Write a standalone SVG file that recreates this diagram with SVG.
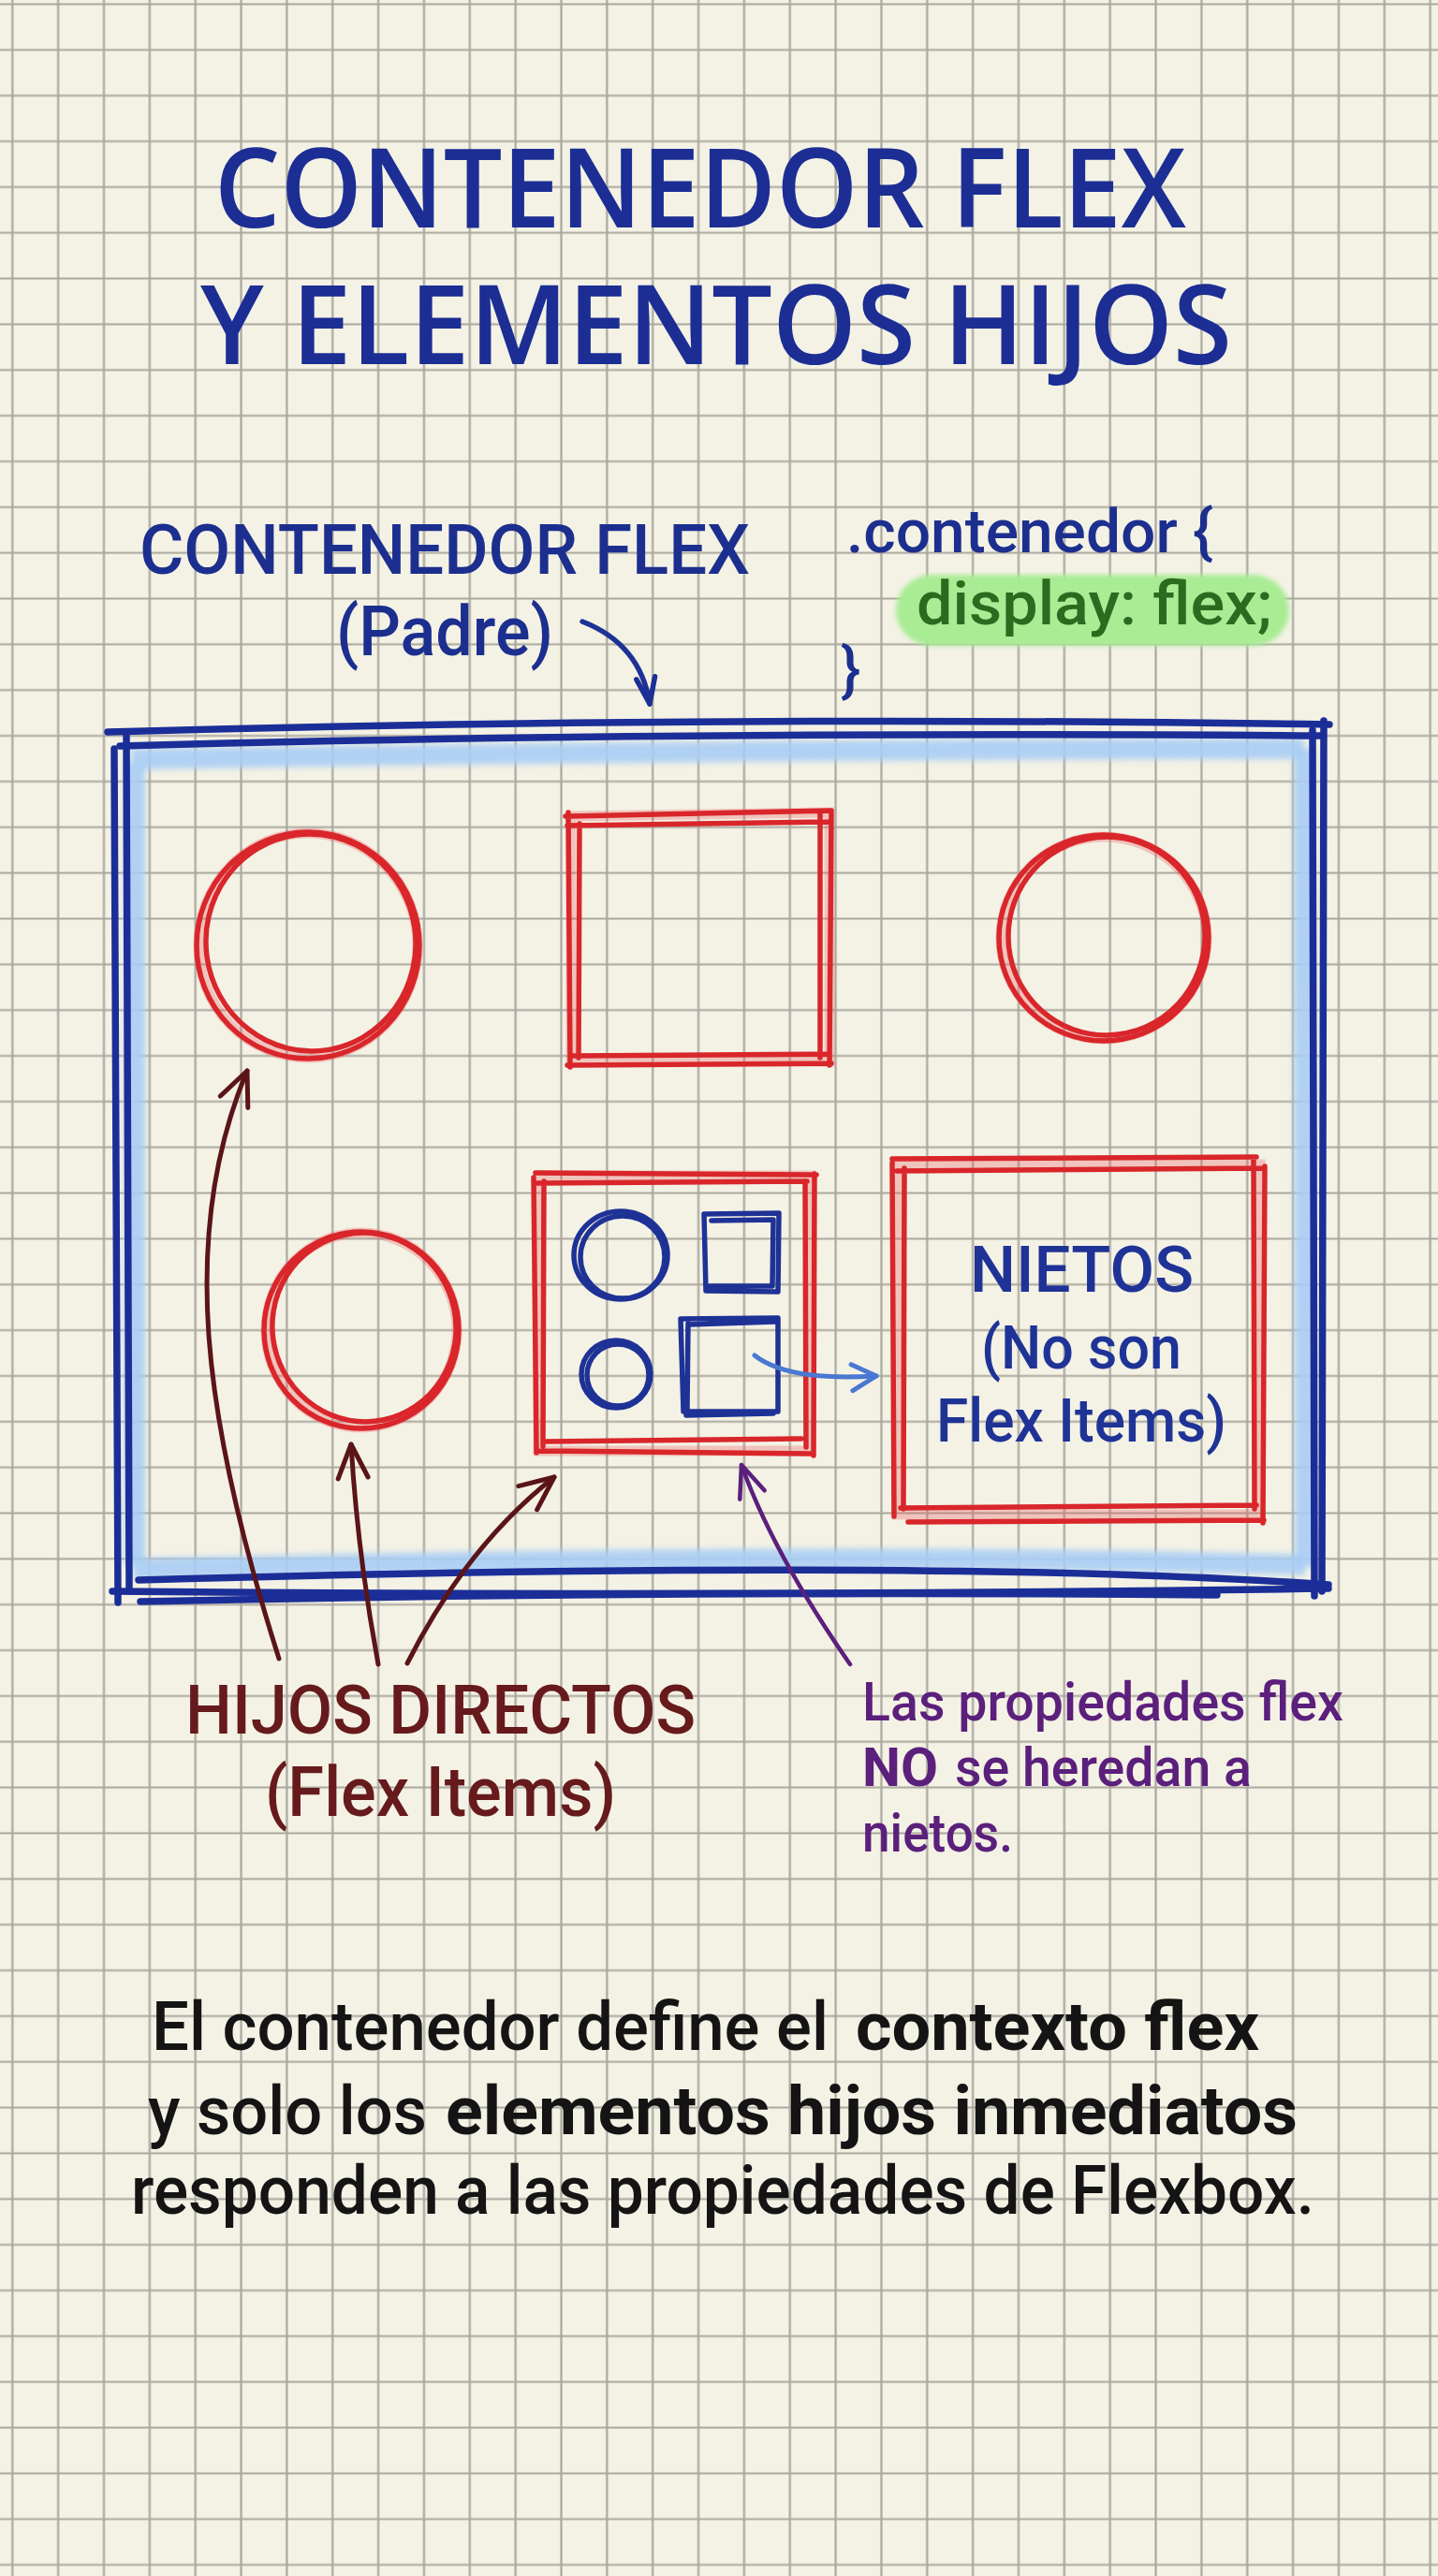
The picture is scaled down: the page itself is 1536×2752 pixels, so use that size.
<svg xmlns="http://www.w3.org/2000/svg" width="1536" height="2752" viewBox="0 0 1536 2752">
<defs>
<pattern id="grid" patternUnits="userSpaceOnUse" x="-11.125" y="-19.975" width="48.85" height="48.85">
<path d="M24.425 0 V48.85 M0 24.425 H48.85" stroke="#a9a79d" stroke-width="2.2" fill="none"/>
</pattern>
<filter id="glow" x="-10%" y="-20%" width="120%" height="140%"><feGaussianBlur stdDeviation="2.5"/></filter>
<filter id="haloblur" x="-5%" y="-5%" width="110%" height="110%"><feGaussianBlur stdDeviation="3"/></filter>
<marker id="hMaroon" markerUnits="userSpaceOnUse" markerWidth="50" markerHeight="50" refX="40" refY="22" orient="auto">
<path d="M4 6 L40 22 L4 38" fill="none" stroke="#5a1518" stroke-width="5" stroke-linecap="round" stroke-linejoin="round"/>
</marker>
<marker id="hPurple" markerUnits="userSpaceOnUse" markerWidth="50" markerHeight="50" refX="40" refY="22" orient="auto">
<path d="M6 8 L40 22 L6 36" fill="none" stroke="#5b1f7c" stroke-width="4.5" stroke-linecap="round" stroke-linejoin="round"/>
</marker>
<marker id="hNavy" markerUnits="userSpaceOnUse" markerWidth="50" markerHeight="50" refX="40" refY="22" orient="auto">
<path d="M12 12 L40 22 L12 32" fill="none" stroke="#1c2f94" stroke-width="5.5" stroke-linecap="round" stroke-linejoin="round"/>
</marker>
<marker id="hBlue" markerUnits="userSpaceOnUse" markerWidth="50" markerHeight="50" refX="40" refY="22" orient="auto">
<path d="M14 8 L40 22 L14 36" fill="none" stroke="#4a78d2" stroke-width="5" stroke-linecap="round" stroke-linejoin="round"/>
</marker>
</defs>
<style>
.t { font-family: "Open Sans", "Noto Sans", "Liberation Sans", sans-serif; }
.r { font-family: Roboto, "Noto Sans", "Liberation Sans", sans-serif; font-weight:500; }
.b { font-family: Roboto, "Noto Sans", "Liberation Sans", sans-serif; font-weight:700; }
.title { fill:#1c2e94; font-size:118px; font-weight:600; }
.navy { fill:#1c2f8f; }
.red { fill:none; stroke:#d9262b; stroke-width:5.5; stroke-linecap:round; stroke-linejoin:round; }
.redglow { fill:none; stroke:#e85a5c; stroke-width:11; opacity:0.3; }
.dblue { fill:none; stroke:#1b2e98; stroke-width:7.5; stroke-linecap:round; }
.halo { fill:none; stroke:#a8cdf5; stroke-width:22; opacity:0.9; }
.sblue { fill:none; stroke:#1e3296; stroke-width:5.5; stroke-linecap:round; stroke-linejoin:round; }
.maroon { fill:none; stroke:#5a1518; stroke-width:5; stroke-linecap:round; }
.purple { fill:none; stroke:#5b1f7c; stroke-width:4.5; stroke-linecap:round; }
</style>

<rect x="0" y="0" width="1536" height="2752" fill="#f4f2e5"/>
<rect x="0" y="0" width="1536" height="2752" fill="url(#grid)"/>

<g id="title">
<text class="t title" x="229" y="243" textLength="1038" lengthAdjust="spacingAndGlyphs">CONTENEDOR FLEX</text>
<text class="t title" x="214" y="389" textLength="1102" lengthAdjust="spacingAndGlyphs">Y ELEMENTOS HIJOS</text>
</g>

<g id="label-contenedor">
<text class="r navy" x="149" y="613" font-size="74" textLength="652" lengthAdjust="spacingAndGlyphs">CONTENEDOR FLEX</text>
<text class="r navy" x="359" y="700" font-size="74" textLength="232" lengthAdjust="spacingAndGlyphs">(Padre)</text>
</g>

<g id="code">
<rect x="957" y="614" width="420" height="76" rx="38" fill="#a8ec94" filter="url(#glow)"/>
<text class="r navy" x="904" y="590" font-size="64" textLength="392" lengthAdjust="spacingAndGlyphs">.contenedor {</text>
<text class="r" x="979" y="667" font-size="64" fill="#2b6b1f" textLength="380" lengthAdjust="spacingAndGlyphs">display: flex;</text>
<text class="r navy" x="898" y="737" font-size="64">}</text>
</g>

<g id="container">
<g filter="url(#haloblur)">
<path class="halo" d="M140 811 Q 760 801 1393 800"/>
<path class="halo" stroke-width="13" d="M144 815 L 144 1672"/>
<path class="halo" stroke-width="16" d="M1393 800 L 1394 1674"/>
<path class="halo" d="M142 1676 Q 900 1657 1394 1672"/>
</g>
<path class="dblue" d="M115 782 Q 760 764 1420 774"/>
<path class="dblue" d="M128 797 Q 700 781 1410 786"/>
<path class="dblue" d="M122 800 L 126 1712"/>
<path class="dblue" d="M135 786 L 138 1700"/>
<path class="dblue" d="M1402 780 L 1404 1705"/>
<path class="dblue" d="M1414 770 L 1412 1700"/>
<path class="dblue" d="M148 1688 Q 1000 1664 1419 1693"/>
<path class="dblue" d="M120 1700 Q 800 1706 1419 1697"/>
<path class="dblue" d="M150 1711 Q 700 1699 1300 1704"/>
</g>

<g id="item-circle-1">
<ellipse class="redglow" cx="329" cy="1010" rx="117" ry="120"/>
<ellipse class="red" cx="329" cy="1010" rx="119" ry="121"/>
<ellipse class="red" cx="332" cy="1007" rx="112" ry="116" transform="rotate(-8 332 1007)"/>
</g>

<g id="item-square-1">
<path class="redglow" d="M610 872 L886 868 L886 1134 L610 1134 Z"/>
<path class="red" d="M604 872 L888 866 M606 882 L886 878 M607 868 L609 1140 M619 880 L618 1130 M876 870 L876 1130 M888 868 L886 1138 M610 1128 L884 1126 M606 1138 L888 1136"/>
</g>

<g id="item-circle-2">
<ellipse class="redglow" cx="1179" cy="1002" rx="110" ry="108"/>
<ellipse class="red" cx="1179" cy="1002" rx="112" ry="110"/>
<ellipse class="red" cx="1182" cy="1000" rx="105" ry="106" transform="rotate(10 1182 1000)"/>
</g>

<g id="item-circle-3">
<ellipse class="redglow" cx="386" cy="1421" rx="102" ry="104"/>
<ellipse class="red" cx="386" cy="1421" rx="104" ry="105"/>
<ellipse class="red" cx="389" cy="1418" rx="98" ry="101" transform="rotate(-12 389 1418)"/>
</g>

<g id="item-box-nietos">
<path class="redglow" d="M575 1256 L866 1256 L866 1550 L575 1550 Z"/>
<path class="red" d="M572 1253 L872 1255 M574 1264 L862 1262 M570 1258 L573 1552 M581 1262 L580 1545 M860 1262 L861 1546 M870 1254 L869 1555 M584 1540 L856 1537 M574 1550 L868 1553"/>
<g id="nieto-circle-1">
<ellipse class="sblue" cx="663" cy="1341" rx="50" ry="47"/>
<ellipse class="sblue" cx="665" cy="1343" rx="45" ry="44"/>
</g>
<g id="nieto-square-1">
<path class="sblue" d="M752 1297 L832 1296 L831 1380 L754 1379 Z M760 1304 L826 1303 L825 1374 L758 1374"/>
</g>
<g id="nieto-circle-2">
<ellipse class="sblue" cx="658" cy="1468" rx="37" ry="36"/>
<ellipse class="sblue" cx="660" cy="1469" rx="33" ry="33"/>
</g>
<g id="nieto-square-2">
<path class="sblue" d="M727 1409 L831 1408 L831 1508 L730 1508 Z M736 1415 L828 1412 M733 1512 L826 1510 M735 1414 L734 1506"/>
</g>
</g>

<g id="nietos-box">
<path class="redglow" d="M958 1244 L1346 1244 L1346 1618 L958 1618 Z"/>
<path class="red" d="M953 1238 L1342 1236 M958 1251 L1350 1248 M953 1242 L955 1620 M966 1248 L965 1612 M1339 1238 L1340 1612 M1351 1246 L1349 1627 M962 1611 L1342 1608 M970 1626 L1350 1624"/>
<text class="r" x="1036" y="1380" font-size="68" fill="#1f3397" textLength="239" lengthAdjust="spacingAndGlyphs">NIETOS</text>
<text class="r" x="1048" y="1462" font-size="64" fill="#1f3397" textLength="214" lengthAdjust="spacingAndGlyphs">(No son</text>
<text class="r" x="1000" y="1540" font-size="64" fill="#1f3397" textLength="310" lengthAdjust="spacingAndGlyphs">Flex Items)</text>
</g>

<g id="label-hijos">
<text class="r" x="198" y="1852" font-size="72" fill="#661a1c" textLength="545" lengthAdjust="spacingAndGlyphs">HIJOS DIRECTOS</text>
<text class="r" x="283" y="1940" font-size="74" fill="#661a1c" textLength="375" lengthAdjust="spacingAndGlyphs">(Flex Items)</text>
</g>

<g id="label-nota">
<text class="r" x="921" y="1838" font-size="57" fill="#5b1f7c" textLength="514" lengthAdjust="spacingAndGlyphs">Las propiedades flex</text>
<text class="b" x="921" y="1908" font-size="57" fill="#5b1f7c" textLength="81" lengthAdjust="spacingAndGlyphs">NO</text>
<text class="r" x="1020" y="1908" font-size="57" fill="#5b1f7c" textLength="317" lengthAdjust="spacingAndGlyphs">se heredan a</text>
<text class="r" x="921" y="1978" font-size="57" fill="#5b1f7c" textLength="161" lengthAdjust="spacingAndGlyphs">nietos.</text>
</g>

<g id="summary">
<text class="r" x="162" y="2190" font-size="72" fill="#141414" textLength="723" lengthAdjust="spacingAndGlyphs">El contenedor define el</text>
<text class="b" x="914" y="2190" font-size="72" fill="#141414" textLength="431" lengthAdjust="spacingAndGlyphs">contexto flex</text>
<text class="r" x="158" y="2280" font-size="72" fill="#141414" textLength="298" lengthAdjust="spacingAndGlyphs">y solo los</text>
<text class="b" x="476" y="2280" font-size="72" fill="#141414" textLength="910" lengthAdjust="spacingAndGlyphs">elementos hijos inmediatos</text>
<text class="r" x="140" y="2365" font-size="72" fill="#141414" textLength="1264" lengthAdjust="spacingAndGlyphs">responden a las propiedades de Flexbox.</text>
</g>

<g id="connectors">
<path class="sblue" stroke="#1c2f94" d="M622 664 Q 684 688 694 752" marker-end="url(#hNavy)"/>
<path fill="none" stroke="#4a78d2" stroke-width="5" stroke-linecap="round" d="M806 1448 Q 842 1476 936 1470" marker-end="url(#hBlue)"/>
<path class="maroon" d="M298 1772 C 218 1520, 190 1320, 264 1144" marker-end="url(#hMaroon)"/>
<path class="maroon" d="M404 1778 Q 382 1660 375 1543" marker-end="url(#hMaroon)"/>
<path class="maroon" d="M435 1777 Q 498 1652 592 1578" marker-end="url(#hMaroon)"/>
<path class="purple" d="M908 1778 Q 826 1660 792 1565" marker-end="url(#hPurple)"/>
</g>
</svg>
